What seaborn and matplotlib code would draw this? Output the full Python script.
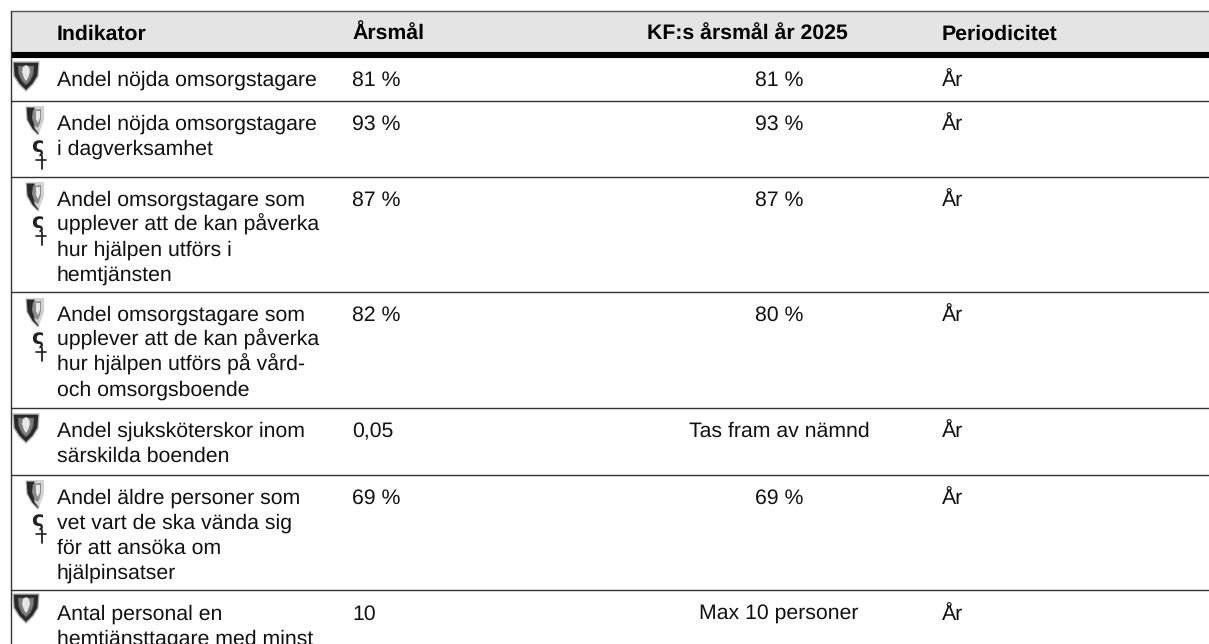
import matplotlib
matplotlib.use("Agg")
import matplotlib.pyplot as plt
import seaborn as sns
from matplotlib.patches import Polygon

sns.set_theme(style="white")
plt.rcParams['font.family'] = ['Liberation Sans', 'DejaVu Sans']
plt.rcParams['text.hinting'] = 'no_hinting'

headers = ["Indikator", "Årsmål", "KF:s årsmål år 2025", "Periodicitet"]
indicators = [
    ["Andel nöjda omsorgstagare"],
    ["Andel nöjda omsorgstagare", "i dagverksamhet"],
    ["Andel omsorgstagare som", "upplever att de kan påverka", "hur hjälpen utförs i", "hemtjänsten"],
    ["Andel omsorgstagare som", "upplever att de kan påverka", "hur hjälpen utförs på vård-", "och omsorgsboende"],
    ["Andel sjuksköterskor inom", "särskilda boenden"],
    ["Andel äldre personer som", "vet vart de ska vända sig", "för att ansöka om", "hjälpinsatser"],
    ["Antal personal en", "hemtjänsttagare med minst"],
]
annual = ["81 %", "93 %", "87 %", "82 %", "0,05", "69 %", "10"]
kf_2025 = ["81 %", "93 %", "87 %", "80 %", "Tas fram av nämnd", "69 %", "Max 10 personer"]
period = ["År"] * 7
icon_kind = ["full", "split", "split", "split", "full", "split", "full"]
row_tops = [58, 102, 178, 293, 409, 476, 592]
icon_tops = [58, 102, 178, 294, 410, 476, 590]
row_lines = [101, 177, 292, 408, 475, 590]

W, H = 1209, 644
fig = plt.figure(figsize=(W / 100, H / 100), dpi=100, facecolor="white")
ax = fig.add_axes([0, 0, 1, 1])
ax.set_xlim(0, W)
ax.set_ylim(H, 0)
ax.axis("off")
sns.despine(ax=ax, left=True, bottom=True)

FS = 15.3
X_IND, X_ANN, X_KF_HEAD, X_KF, X_PER = 57, 352, 647, 779, 942
LH = 24.8
INK = "#111111"

ax.fill_between([11, W], 11, 52, color="#e4e4e4", lw=0, zorder=0)
ax.plot([11, W], [11, 11], color="#555555", lw=1.0)
ax.plot([11, W], [55, 55], color="black", lw=4.4, solid_capstyle="butt")
ax.plot([11, 11], [11, H], color="#333333", lw=1.0)
for y in row_lines:
    ax.plot([11, W], [y, y], color="#333333", lw=1.0)

for h, x in zip(headers, [X_IND, X_ANN, X_KF_HEAD, X_PER]):
    ax.text(x, 39.5, h, fontsize=FS, fontweight="bold", color="black", ha="left", va="baseline")


def poly(points, x0, y0, **kw):
    ax.add_patch(Polygon([(x0 + a, y0 + b) for a, b in points], **kw))


def full_shield(top):
    x0, y0 = 13, top + 3
    outer = [(0, 1), (26, 1), (25, 15), (20, 23), (13, 30), (6, 23), (1, 15)]
    inner = [(5, 5), (21, 5), (20, 14), (17, 20), (13, 24), (9, 20), (6, 14)]
    crest = [(10, 6), (13, 4), (16, 6), (17, 11), (15, 17), (13, 20), (11, 17), (9, 11)]
    poly(outer, x0, y0, fc="#2a2a2a", ec="#b5b5b5", lw=1.0)
    poly(inner, x0, y0, fc="#7d7d7d", ec="#555555", lw=0.6)
    poly(crest, x0, y0, fc="#e6e6e6", ec="none")


def split_icon(top):
    x0, y0 = 26, top + 4
    pale = [(9, 0), (18, 0), (18, 14), (15, 22), (12, 29), (7, 24)]
    outer = [(0, 1), (9, 1), (9, 22), (13, 27), (12, 29), (6, 23), (1, 14)]
    inner = [(7, 4), (15, 3), (15, 13), (13, 20), (11, 22), (8, 18), (6, 12)]
    crest = [(10, 5), (14, 5), (14, 12), (12, 17), (10, 13)]
    poly(pale, x0, y0, fc="#d2d2d2", ec="none")
    poly(outer, x0, y0, fc="#2a2a2a", ec="#bdbdbd", lw=0.8)
    poly(inner, x0, y0, fc="#8c8c8c", ec="none")
    poly(crest, x0, y0, fc="#e8e8e8", ec="none")
    ax.text(43, top + 51, "ς", fontsize=15, fontweight="bold", color="#222222",
            ha="right", va="baseline", family=["DejaVu Sans"])
    ax.plot([42, 42], [top + 54, top + 67], color="#222222", lw=1.3)
    ax.plot([36, 46], [top + 58, top + 58], color="#222222", lw=1.2)


for i, top in enumerate(row_tops):
    base = top + 28
    for j, line in enumerate(indicators[i]):
        ax.text(X_IND, base + j * LH, line, fontsize=FS, color=INK, ha="left", va="baseline")
    ax.text(X_ANN, base, annual[i], fontsize=FS, color=INK, ha="left", va="baseline")
    ax.text(X_KF, base, kf_2025[i], fontsize=FS, color=INK, ha="center", va="baseline")
    ax.text(X_PER, base, period[i], fontsize=FS, color=INK, ha="left", va="baseline")
    if icon_kind[i] == "full":
        full_shield(icon_tops[i])
    else:
        split_icon(icon_tops[i])

fig.savefig("out.png", dpi=100)
